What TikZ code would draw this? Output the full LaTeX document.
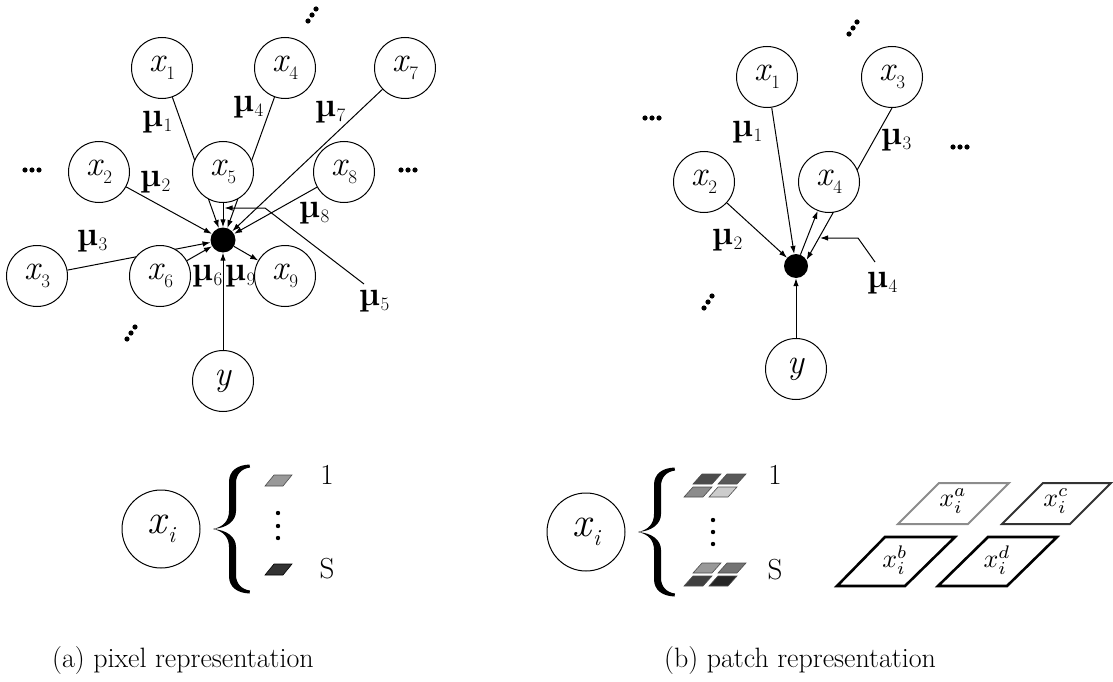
\documentclass[tikz,border=0pt]{standalone}
\usepackage{fontspec}
\usepackage{graphicx}
\usetikzlibrary{arrows.meta}
\pgfdeclarelayer{bg}
\pgfsetlayers{bg,main}

% variable x_k inside a graph node
\newcommand\vx[1]{{\fontsize{35}{35}\selectfont\itshape x}\kern1.5pt\raisebox{-8pt}{\fontsize{19}{19}\selectfont #1}}
\newcommand\vy{{\fontsize{35}{35}\selectfont\itshape y}}
% weight label mu_k
\newcommand\vmu[1]{{\fontsize{34}{34}\selectfont\bfseries\textmu}\kern0.5pt\raisebox{-5pt}{\fontsize{19}{19}\selectfont #1}}
% larger x_i for the legend
\newcommand\bigxi{{\fontsize{42}{42}\selectfont\itshape x}\kern2pt\raisebox{-9pt}{\fontsize{23}{23}\selectfont\itshape i}}
% three dots in a row / on a rising diagonal
\newcommand\rowdots[2]{\foreach \k in {-1,0,1}{\fill ({#1+7*\k},#2) circle (2.6);}}
\newcommand\diagdots[2]{\foreach \k in {-1,0,1}{\fill ({#1+4*\k},{#2-6*\k}) circle (2.6);}}
% small patch parallelogram with bottom-left corner (#1,#2)
\newcommand\patch[3]{\filldraw[fill=#3,draw=black!70,line width=0.6pt] (#1,#2) -- ++(19,0) -- ++(9,-10) -- ++(-19,0) -- cycle;}
% one half of a curly brace, tip at the origin side (-18,0)
\newcommand\bracehalf{(-18,0) .. controls (-4,-1) and (5,-8) .. (5,-18) -- (5,-46)
  .. controls (5,-55) and (11,-60.5) .. (19,-61.5) -- (18.5,-64.5)
  .. controls (6,-64) and (-2,-58) .. (-2,-47) -- (-2,-18)
  .. controls (-2,-8) and (-8,-2) .. (-18,0) -- cycle}
\newcommand\curlybrace[2]{%
  \begin{scope}[shift={(#1,#2)}]\fill \bracehalf;\end{scope}%
  \begin{scope}[shift={(#1,#2)},yscale=-1]\fill \bracehalf;\end{scope}}

\begin{document}
\begin{tikzpicture}[x=1pt,y=-1pt,
  vnode/.style={circle,draw,fill=white,line width=1pt,minimum size=61pt,inner sep=0pt},
  hub/.style={circle,fill=black,minimum size=25pt,inner sep=0pt},
  edge/.style={line width=1pt,-{Latex[length=8pt,width=5.5pt]}},
  lab/.style={inner sep=0pt},
  txt/.style={inner sep=0pt,font=\fontsize{29}{29}\selectfont},
  captxt/.style={inner sep=0pt,anchor=base west,font=\fontsize{28}{28}\selectfont},
  plab/.style={inner sep=0pt},
]
\useasboundingbox (0,0) rectangle (1113,682);

% ---------------- (a) pixel graph ----------------
\node[vnode] (a1) at (162,68) {\vx{1}};
\node[vnode] (a4) at (285,68) {\vx{4}};
\node[vnode] (a7) at (405,68) {\vx{7}};
\node[vnode] (a2) at (99,172) {\vx{2}};
\node[vnode] (a5) at (223,172) {\vx{5}};
\node[vnode] (a8) at (344,172) {\vx{8}};
\node[vnode] (a3) at (37,276) {\vx{3}};
\node[vnode] (a6) at (160,276) {\vx{6}};
\node[vnode] (a9) at (285,276) {\vx{9}};
\node[vnode] (ay) at (223,381) {\vy};
\node[hub] (ah) at (223,240) {};

\node[lab] (am1) at (157,122) {\vmu{1}};
\node[lab] (am4) at (248,107) {\vmu{4}};
\node[lab] (am7) at (330,112) {\vmu{7}};
\node[lab] (am2) at (155,182) {\vmu{2}};
\node[lab] (am8) at (314,213) {\vmu{8}};
\node[lab] (am3) at (92,241) {\vmu{3}};
\node[lab] (am6) at (207,276) {\vmu{6}};
\node[lab] (am9) at (240,276) {\vmu{9}};
\node[lab] (am5) at (374,301) {\vmu{5}};

\coordinate (m5a) at (364,284);
\coordinate (m5b) at (265,208);
\coordinate (m5c) at (224.5,208);

\begin{pgfonlayer}{bg}
\draw[edge] (a1) -- (ah);
\draw[edge] (a4) -- (ah);
\draw[edge] (a5) -- (ah);
\draw[edge] (a7) -- (ah);
\draw[edge] (a8) -- (ah);
\draw[edge] (a2) -- (ah);
\draw[edge] (a3) -- (ah);
\draw[edge] (a6) -- (ah);
\draw[edge] (ah) -- (a9);
\draw[edge] (ay) -- (ah);
\draw[edge] (m5a) -- (m5b) -- (m5c);
\end{pgfonlayer}

\rowdots{32}{170}
\rowdots{408}{170}
\diagdots{312}{15}
\diagdots{131}{333}

% ---------------- (b) patch graph ----------------
\node[vnode] (b1) at (767,77) {\vx{1}};
\node[vnode] (b3) at (892,77) {\vx{3}};
\node[vnode] (b2) at (704,182) {\vx{2}};
\node[vnode] (b4) at (829,182) {\vx{4}};
\node[vnode] (by) at (796,369) {\vy};
\node[hub,minimum size=24pt] (bh) at (796,266) {};

\node[lab] (bm1) at (747,132) {\vmu{1}};
\node[lab] (bm3) at (896,140) {\vmu{3}};
\node[lab] (bm2) at (727,240) {\vmu{2}};
\node[lab] (bm4) at (882,283) {\vmu{4}};

\coordinate (m4a) at (875,262);
\coordinate (m4b) at (858,238);
\coordinate (m4c) at (820,238);

\begin{pgfonlayer}{bg}
\draw[edge] (b1) -- (bh);
\draw[edge] (b2) -- (bh);
\draw[edge] (b3.south) -- (bh.30);
\draw[edge] (bh) -- (b4);
\draw[edge] (by) -- (bh);
\draw[edge] (m4a) -- (m4b) -- (m4c);
\end{pgfonlayer}

\rowdots{652}{118}
\rowdots{960}{147}
\diagdots{853}{28}
\diagdots{708}{302}

% ---------------- legend (a) ----------------
\node[vnode,minimum size=78pt] (la) at (161,529) {\bigxi};
\curlybrace{231}{529}
\filldraw[fill=black!40,draw=black!70,line width=0.6pt] (265,486) -- (283,486) -- (292,475) -- (274,475) -- cycle;
\filldraw[fill=black!80,draw=black,line width=0.6pt] (265,575) -- (283,575) -- (292,564) -- (274,564) -- cycle;
\foreach \yy in {513,526,538} \fill (278,\yy) circle (2.2);
\node[txt,anchor=base] (la1) at (327,484) {1};
\node[txt,anchor=base] (laS) at (327,578) {S};

% ---------------- legend (b) ----------------
\node[vnode,minimum size=78pt] (lb) at (586,532) {\bigxi};
\curlybrace{656}{532}
\patch{693}{484}{black!70}
\patch{718}{484}{black!65}
\patch{684}{497}{black!45}
\patch{709}{497}{black!20}
\patch{693}{573}{black!40}
\patch{718}{573}{black!55}
\patch{684}{586}{black!75}
\patch{709}{586}{black!85}
\foreach \yy in {520,532,544} \fill (713,\yy) circle (2.2);
\node[txt,anchor=base] (lb1) at (775,484) {1};
\node[txt,anchor=base] (lbS) at (775,579) {S};

\draw[line width=2pt,draw=black!45] (898,524) -- (968,524) -- (1009,483) -- (939,483) -- cycle;
\draw[line width=2pt,draw=black!80] (1002,524) -- (1070,524) -- (1111,483) -- (1043,483) -- cycle;
\draw[line width=2.6pt] (837,586) -- (905,586) -- (955,537) -- (885,537) -- cycle;
\draw[line width=2.6pt] (938,586) -- (1007,586) -- (1057,537) -- (988,537) -- cycle;
\node[plab] (pa) at (953,501) {\scalebox{2.6}{$x_i^a$}};
\node[plab] (pc) at (1056,501) {\scalebox{2.6}{$x_i^c$}};
\node[plab] (pb) at (895,560) {\scalebox{2.6}{$x_i^b$}};
\node[plab] (pd) at (997,560) {\scalebox{2.6}{$x_i^d$}};

% ---------------- captions ----------------
\node[captxt] (capa) at (52,667) {(a) pixel representation};
\node[captxt] (capb) at (664,667) {(b) patch representation};
\end{tikzpicture}
\end{document}
